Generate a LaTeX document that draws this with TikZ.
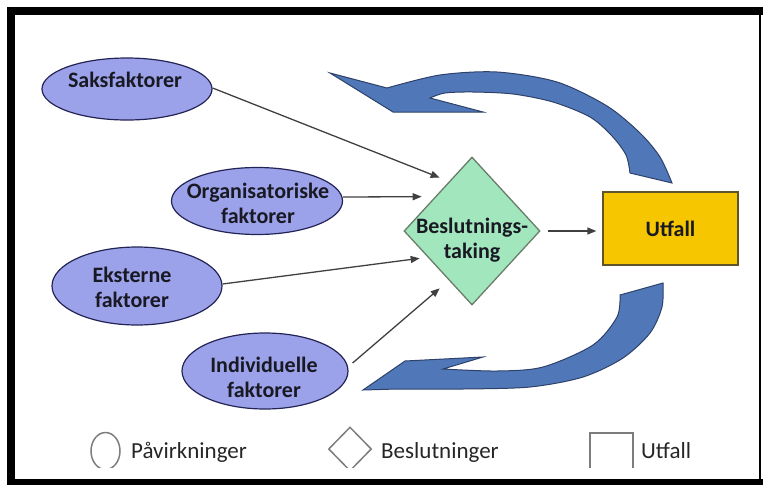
\documentclass[tikz,border=0pt]{standalone}
\usepackage{fontspec}
\setmainfont{Carlito}
\usetikzlibrary{shapes.geometric, arrows.meta}

\definecolor{factorfill}{RGB}{155,162,233}
\definecolor{factorline}{RGB}{35,35,85}
\definecolor{decisionfill}{RGB}{162,230,190}
\definecolor{decisionline}{RGB}{105,125,105}
\definecolor{outcomefill}{RGB}{246,198,0}
\definecolor{outcomeline}{RGB}{95,85,40}
\definecolor{loopfill}{RGB}{80,120,185}
\definecolor{loopline}{RGB}{45,65,105}
\definecolor{legendgrey}{RGB}{125,125,125}
\definecolor{textdark}{RGB}{25,25,35}

\begin{document}
\begin{tikzpicture}[x=1pt, y=-1pt, >={Triangle[length=9pt,width=7pt]},
    factor/.style={ellipse, draw=factorline, line width=1.2pt, fill=factorfill, inner sep=0pt},
    decision/.style={diamond, draw=decisionline, line width=1.3pt, fill=decisionfill, inner sep=0pt},
    outcome/.style={rectangle, draw=outcomeline, line width=1.3pt, fill=outcomefill,
        minimum width=135pt, minimum height=73pt, text=textdark, font=\bfseries\fontsize{22}{25}\selectfont},
    boldtext/.style={font=\bfseries\fontsize{22}{25}\selectfont, text=textdark, align=center, inner sep=0pt},
    influence/.style={->, color=black!75, line width=1.3pt},
    feedback/.style={draw=loopline, line width=1pt, fill=loopfill},
    legendshape/.style={draw=legendgrey, line width=1.5pt, inner sep=0pt},
    legendtext/.style={font=\fontsize{23}{26}\selectfont, text=black!85, anchor=base west, inner sep=0pt}]
    \useasboundingbox (0,0) rectangle (763,485);

    % Frame
    \fill[black] (7,7) rectangle (763,15);
    \fill[black] (7,7) rectangle (15,485);
    \fill[black] (7,479) rectangle (763,485);
    \draw[black, line width=2pt] (760,15) -- (760,479);

    % Define influences
    \node[factor, minimum width=170pt, minimum height=62pt] (saks) at (127,89) {};
    \node[boldtext] (saks-txt) at (125,79.5) {Saksfaktorer};
    \node[factor, minimum width=171pt, minimum height=67pt] (org) at (257,201) {};
    \node[boldtext] (org-txt) at (258,203) {Organisatoriske\\faktorer};
    \node[factor, minimum width=170pt, minimum height=78pt] (ekst) at (137,286) {};
    \node[boldtext] (ekst-txt) at (132,287) {Eksterne\\faktorer};
    \node[factor, minimum width=166pt, minimum height=76pt] (indiv) at (265,371) {};
    \node[boldtext] (indiv-txt) at (264,377) {Individuelle\\faktorer};

    % Decision and outcome
    \node[decision, minimum width=136pt, minimum height=148pt] (dia) at (472,231) {};
    \node[boldtext] (dia-txt) at (472,240) {Beslutnings-\\taking};
    \node[outcome] (utf) at (670.5,228.5) {Utfall};

    % Define influence arrows
    \path[influence]
    ([yshift=1pt]saks.east) edge ([xshift=2pt, yshift=16pt]dia.north west)
    ([yshift=4pt]org.east) edge ([xshift=-16pt, yshift=-3pt]dia.north west)
    ([yshift=2pt]ekst.east) edge ([xshift=-18pt, yshift=10pt]dia.south west)
    ([xshift=4pt, yshift=8pt]indiv.east) edge ([xshift=2pt, yshift=-20pt]dia.south west)
    (dia.east) edge[shorten <=7pt, shorten >=6pt] (dia.east -| utf.west);

    % Feedback arrows
    \draw[feedback] (330,73) -- (387,88)
        -- plot[smooth] coordinates {(387,88) (440,75) (497,72) (557,82) (607,106) (640,133) (660,157) (672,183)}
        -- (630,173)
        -- plot[smooth] coordinates {(630,173) (626,155) (612,136) (590,117) (553,102) (513,94) (473,92) (445,93) (430,98)}
        -- (483,112) -- (393,112) -- cycle;
    \draw[feedback] (363,390) -- (405,361) -- (483,357) -- (443,369)
        -- plot[smooth] coordinates {(443,369) (497,371) (543,367) (593,345) (617,317) (620,295)}
        -- (663,283)
        -- plot[smooth] coordinates {(663,283) (662,307) (650,333) (623,358) (583,377) (530,387) (463,389) (397,389)}
        -- cycle;

    % Legend
    \begin{scope}
        \clip (0,0) rectangle (763,467);
        \node[legendshape, ellipse, minimum width=29pt, minimum height=37pt] (leg-inf) at (105.5,451) {};
        \node[legendshape, diamond, minimum width=43pt, minimum height=44pt] (leg-dec) at (350,449) {};
        \node[legendshape, rectangle, minimum width=43pt, minimum height=43pt] (leg-out) at (611.5,454.5) {};
    \end{scope}
    \node[legendtext] (leg-inf-txt) at (131,458) {Påvirkninger};
    \node[legendtext] (leg-dec-txt) at (381,458) {Beslutninger};
    \node[legendtext] (leg-out-txt) at (641,458) {Utfall};
\end{tikzpicture}
\end{document}
